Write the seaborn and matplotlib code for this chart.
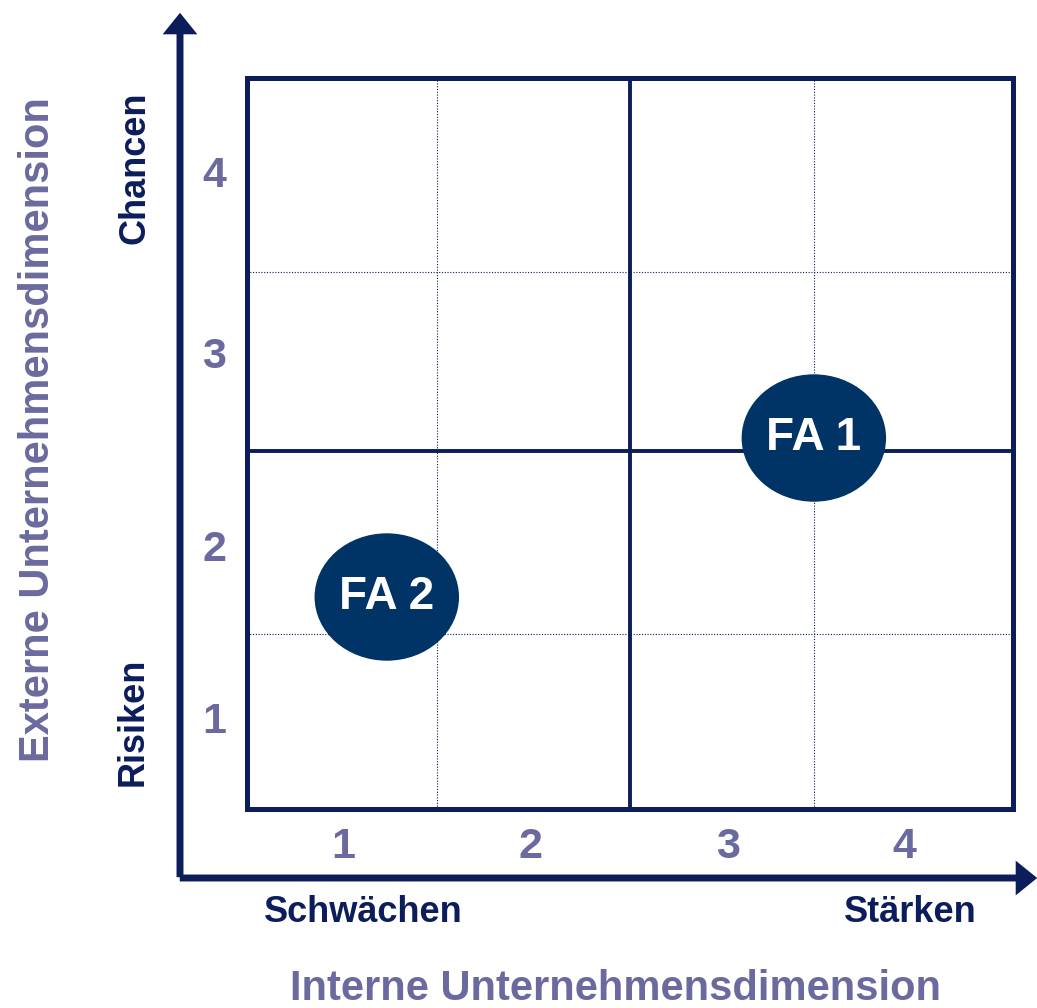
import seaborn as sns
import matplotlib.pyplot as plt
from matplotlib.path import Path
from matplotlib.transforms import Affine2D
from matplotlib.patches import FancyArrowPatch

# data
x_labels = ['1', '2', '3', '4']
y_labels = ['1', '2', '3', '4']
x_tick_pos = [1.0, 1.98, 3.01, 3.93]
y_tick_pos = [1.0, 1.94, 3.0, 3.99]
fa_labels = ['FA 1', 'FA 2']
fa_x = [3.46, 1.23]
fa_y = [2.53, 1.66]

navy = '#0b1d5a'
slate = '#6a6a9e'
blob = '#003366'

sns.set_theme(style='white')
plt.rcParams['font.family'] = ['Liberation Sans', 'DejaVu Sans']
plt.rcParams['font.weight'] = 'bold'

fig = plt.figure(figsize=(10.37, 10.08), dpi=100)
ax = fig.add_axes([247 / 1037, 1 - 809 / 1008, 766 / 1037, 731 / 1008])

ax.set_xlim(0.5, 4.5)
ax.set_ylim(0.5, 4.5)

# grid lines
for v in [1.49, 3.46]:
    ax.axvline(v, color=navy, lw=0.8, ls=(0, (1, 1.5)), zorder=1)
for v in [1.46, 3.44]:
    ax.axhline(v, color=navy, lw=0.8, ls=(0, (1, 1.5)), zorder=1)
ax.axvline(2.5, color=navy, lw=2.8, zorder=2)
ax.axhline(2.46, color=navy, lw=2.8, zorder=2)

# ellipse markers
ell = Path.unit_circle().transformed(Affine2D().scale(1.0, 127 / 144))
sns.scatterplot(x=fa_x, y=fa_y, ax=ax, marker=ell, s=104 ** 2, color=blob,
                linewidth=0, edgecolor='none', zorder=3, legend=False)
for lab, x, y in zip(fa_labels, fa_x, fa_y):
    ax.text(x, y, lab, color='white', fontsize=33, fontweight='bold',
            ha='center', va='center', zorder=4)

for s in ax.spines.values():
    s.set_color(navy)
    s.set_linewidth(3.6)
    s.set_visible(True)

ax.set_xticks(x_tick_pos)
ax.set_yticks(y_tick_pos)
ax.set_xticklabels(x_labels)
ax.set_yticklabels(y_labels)
ax.tick_params(axis='x', length=0, labelsize=31, labelcolor=slate, pad=13)
ax.tick_params(axis='y', length=0, labelsize=31, labelcolor=slate, pad=15)

# axis arrows
style = 'simple,head_length=0.62,head_width=1.0,tail_width=0.2'
fig.add_artist(FancyArrowPatch((180, 128), (180, 998), transform=None,
                               arrowstyle=style, mutation_scale=25,
                               color=navy, lw=0))
fig.add_artist(FancyArrowPatch((177, 130), (1040, 130), transform=None,
                               arrowstyle=style, mutation_scale=25,
                               color=navy, lw=0))

W, H = 1037, 1008
fig.text(135 / W, 1 - 168 / H, 'Chancen', rotation=90, color=navy,
         fontsize=26, fontweight='bold', ha='center', va='center')
fig.text(133 / W, 1 - 722 / H, 'Risiken', rotation=90, color=navy,
         fontsize=26, fontweight='bold', ha='center', va='center')
fig.text(363 / W, 1 - 913 / H, 'Schwächen', color=navy,
         fontsize=26, fontweight='bold', ha='center', va='center')
fig.text(910 / W, 1 - 913 / H, 'Stärken', color=navy,
         fontsize=26, fontweight='bold', ha='center', va='center')
fig.text(616 / W, 1 - 989 / H, 'Interne Unternehmensdimension', color=slate,
         fontsize=30, fontweight='bold', ha='center', va='center')
fig.text(38 / W, 1 - 430 / H, 'Externe Unternehmensdimension', rotation=90,
         color=slate, fontsize=30, fontweight='bold', ha='center', va='center')

fig.savefig('out.png', dpi=100)
